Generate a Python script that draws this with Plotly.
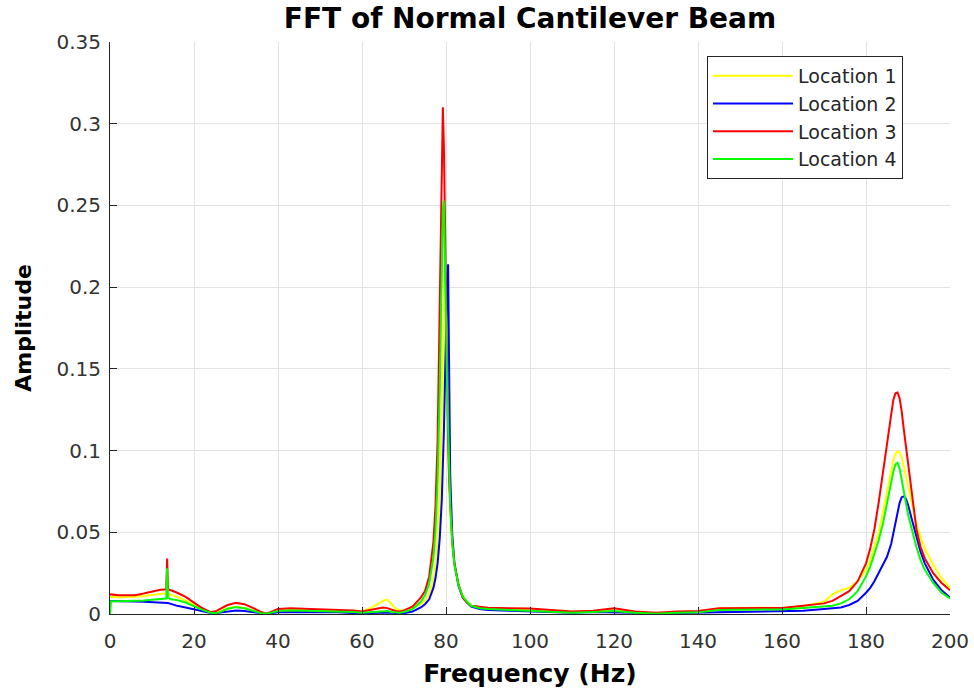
import plotly.graph_objects as go

# ---------------- data ----------------
freq_hz = [
    0, 0.25, 2, 4, 6, 8, 10, 12, 13, 13.4,
    13.6, 13.8, 14.5, 16, 18, 20, 22, 24, 25, 26,
    28, 30, 32, 34, 36, 37, 38, 40, 43, 46,
    50, 54, 58, 60, 62, 64, 65, 66, 67, 68,
    69, 70, 72, 74, 75, 76, 77, 77.5, 78, 78.5,
    79, 79.25, 79.5, 79.75, 80, 80.25, 80.5, 80.75, 81, 81.5,
    82, 83, 84, 85, 86, 88, 90, 95, 100, 105,
    110, 115, 120, 125, 130, 135, 140, 145, 150, 155,
    160, 165, 170, 172, 174, 176, 178, 180, 181, 182,
    183, 184, 185, 186, 186.5, 187, 187.5, 188, 188.5, 189,
    189.5, 190, 191, 192, 193, 194, 196, 198, 200,
]

loc1_amp = [
    0.0103, 0.0105, 0.0102, 0.0102, 0.0105, 0.0110, 0.0118, 0.0123, 0.0125, 0.0125,
    0.0240, 0.0120, 0.0118, 0.0105, 0.0082, 0.0055, 0.0030, 0.0010, 0.0008, 0.0015,
    0.0035, 0.0045, 0.0038, 0.0022, 0.0006, 0.0004, 0.0008, 0.0022, 0.0026, 0.0025,
    0.0024, 0.0022, 0.0018, 0.0015, 0.0035, 0.0065, 0.0082, 0.0088, 0.0060, 0.0032,
    0.0022, 0.0022, 0.0035, 0.0060, 0.0080, 0.0120, 0.0210, 0.0300, 0.0450, 0.0720,
    0.1200, 0.1550, 0.1900, 0.2150, 0.1900, 0.1450, 0.1100, 0.0850, 0.0660, 0.0430,
    0.0300, 0.0170, 0.0110, 0.0075, 0.0050, 0.0038, 0.0034, 0.0030, 0.0030, 0.0022,
    0.0012, 0.0018, 0.0030, 0.0012, 0.0005, 0.0010, 0.0012, 0.0035, 0.0038, 0.0038,
    0.0036, 0.0048, 0.0075, 0.0120, 0.0145, 0.0160, 0.0200, 0.0270, 0.0330, 0.0410,
    0.0500, 0.0620, 0.0750, 0.0880, 0.0940, 0.0980, 0.0995, 0.0990, 0.0960, 0.0900,
    0.0840, 0.0770, 0.0650, 0.0550, 0.0470, 0.0400, 0.0300, 0.0220, 0.0160,
]

loc2_amp = [
    0.0080, 0.0080, 0.0079, 0.0078, 0.0077, 0.0075, 0.0073, 0.0070, 0.0069, 0.0068,
    0.0068, 0.0067, 0.0062, 0.0050, 0.0040, 0.0028, 0.0015, 0.0006, 0.0005, 0.0008,
    0.0018, 0.0022, 0.0018, 0.0010, 0.0003, 0.0002, 0.0004, 0.0010, 0.0012, 0.0012,
    0.0011, 0.0010, 0.0006, 0.0004, 0.0006, 0.0008, 0.0009, 0.0009, 0.0008, 0.0006,
    0.0005, 0.0005, 0.0015, 0.0040, 0.0060, 0.0090, 0.0160, 0.0220, 0.0310, 0.0460,
    0.0700, 0.0880, 0.1120, 0.1420, 0.1750, 0.2000, 0.2140, 0.1300, 0.0850, 0.0480,
    0.0310, 0.0170, 0.0100, 0.0070, 0.0045, 0.0030, 0.0025, 0.0020, 0.0015, 0.0010,
    0.0008, 0.0012, 0.0012, 0.0008, 0.0004, 0.0006, 0.0006, 0.0010, 0.0012, 0.0012,
    0.0014, 0.0020, 0.0030, 0.0035, 0.0040, 0.0055, 0.0080, 0.0130, 0.0160, 0.0200,
    0.0250, 0.0300, 0.0350, 0.0430, 0.0490, 0.0560, 0.0630, 0.0680, 0.0715, 0.0720,
    0.0705, 0.0670, 0.0570, 0.0470, 0.0380, 0.0310, 0.0210, 0.0145, 0.0100,
]

loc3_amp = [
    0.0118, 0.0120, 0.0115, 0.0113, 0.0115, 0.0125, 0.0138, 0.0148, 0.0150, 0.0150,
    0.0340, 0.0150, 0.0145, 0.0130, 0.0105, 0.0068, 0.0035, 0.0012, 0.0015, 0.0028,
    0.0055, 0.0068, 0.0060, 0.0038, 0.0012, 0.0005, 0.0010, 0.0030, 0.0035, 0.0032,
    0.0030, 0.0028, 0.0022, 0.0015, 0.0025, 0.0038, 0.0040, 0.0036, 0.0025, 0.0018,
    0.0016, 0.0022, 0.0045, 0.0100, 0.0140, 0.0230, 0.0440, 0.0660, 0.1060, 0.1820,
    0.2850, 0.3100, 0.2860, 0.2350, 0.1830, 0.1380, 0.1060, 0.0810, 0.0650, 0.0440,
    0.0310, 0.0180, 0.0100, 0.0070, 0.0050, 0.0042, 0.0038, 0.0035, 0.0033, 0.0025,
    0.0015, 0.0020, 0.0035, 0.0015, 0.0008, 0.0015, 0.0018, 0.0035, 0.0036, 0.0037,
    0.0037, 0.0050, 0.0065, 0.0080, 0.0110, 0.0140, 0.0200, 0.0310, 0.0400, 0.0520,
    0.0680, 0.0860, 0.1050, 0.1230, 0.1310, 0.1350, 0.1355, 0.1320, 0.1240, 0.1130,
    0.1030, 0.0940, 0.0720, 0.0520, 0.0410, 0.0340, 0.0250, 0.0190, 0.0145,
]

loc4_amp = [
    0.0000, 0.0078, 0.0078, 0.0079, 0.0080, 0.0083, 0.0087, 0.0090, 0.0092, 0.0095,
    0.0280, 0.0100, 0.0090, 0.0085, 0.0070, 0.0045, 0.0025, 0.0008, 0.0005, 0.0010,
    0.0032, 0.0042, 0.0035, 0.0020, 0.0005, 0.0003, 0.0006, 0.0018, 0.0022, 0.0020,
    0.0018, 0.0016, 0.0012, 0.0008, 0.0012, 0.0018, 0.0020, 0.0018, 0.0012, 0.0008,
    0.0008, 0.0012, 0.0030, 0.0075, 0.0115, 0.0185, 0.0345, 0.0510, 0.0810, 0.1350,
    0.2160, 0.2470, 0.2530, 0.2230, 0.1810, 0.1400, 0.1080, 0.0840, 0.0660, 0.0430,
    0.0300, 0.0175, 0.0105, 0.0075, 0.0050, 0.0035, 0.0030, 0.0025, 0.0020, 0.0013,
    0.0008, 0.0012, 0.0018, 0.0008, 0.0002, 0.0008, 0.0010, 0.0025, 0.0026, 0.0027,
    0.0028, 0.0036, 0.0045, 0.0050, 0.0065, 0.0090, 0.0140, 0.0230, 0.0290, 0.0370,
    0.0450, 0.0550, 0.0680, 0.0820, 0.0870, 0.0915, 0.0925, 0.0890, 0.0830, 0.0750,
    0.0680, 0.0610, 0.0510, 0.0410, 0.0330, 0.0270, 0.0190, 0.0130, 0.0095,
]

series_names = ["Location 1", "Location 2", "Location 3", "Location 4"]
series_values = [loc1_amp, loc2_amp, loc3_amp, loc4_amp]
series_colors = ["#ffff00", "#0000ff", "#ff0000", "#00ff00"]

x_tick_values = [0, 20, 40, 60, 80, 100, 120, 140, 160, 180, 200]
y_tick_values = [0, 0.05, 0.1, 0.15, 0.2, 0.25, 0.3, 0.35]
y_tick_labels = ["0", "0.05", "0.1", "0.15", "0.2", "0.25", "0.3", "0.35"]

title_text = "FFT of Normal Cantilever Beam"
x_title = "Frequency (Hz)"
y_title = "Amplitude"

# ---------------- figure ----------------
FONT = "DejaVu Sans, Liberation Sans, Arial, sans-serif"
AX = "#262626"

fig = go.Figure()
for name, vals, col in zip(series_names, series_values, series_colors):
    fig.add_trace(go.Scatter(
        x=freq_hz, y=vals, mode="lines", name=name,
        line=dict(color=col, width=2),
    ))

axis_common = dict(
    showgrid=True, gridcolor="#e3e3e3", gridwidth=1,
    showline=True, linecolor=AX, linewidth=1,
    ticks="inside", ticklen=7, tickcolor=AX, tickwidth=1,
    zeroline=False, mirror=False, automargin=False,
    tickfont=dict(family=FONT, size=20, color="#333333"),
)

fig.update_layout(
    width=974, height=693,
    margin=dict(l=110, r=24, t=42, b=79),
    paper_bgcolor="white", plot_bgcolor="white",
    title=dict(
        text="<b>" + title_text + "</b>",
        x=0.5, xref="paper", xanchor="center",
        y=1 - 18 / 693, yref="container", yanchor="middle",
        font=dict(family=FONT, size=28, color="black"),
    ),
    xaxis=dict(
        range=[0, 200], tickvals=x_tick_values,
        title=dict(text="<b>" + x_title + "</b>",
                   font=dict(family=FONT, size=25, color="black"), standoff=12),
        ticklabelstandoff=9,
        **axis_common,
    ),
    yaxis=dict(
        range=[0, 0.35], tickvals=y_tick_values, ticktext=y_tick_labels,
        title=dict(text="<b>" + y_title + "</b>",
                   font=dict(family=FONT, size=22, color="black"), standoff=18),
        ticklabelstandoff=4,
        **axis_common,
    ),
    showlegend=True,
    legend=dict(
        x=(707 - 110) / 840, y=(614 - 56) / 572,
        xanchor="left", yanchor="top",
        bgcolor="white", bordercolor=AX, borderwidth=1,
        font=dict(family=FONT, size=19, color="#262626"),
        itemwidth=80,
        tracegroupgap=0,
    ),
)

fig.write_html("out.html")
